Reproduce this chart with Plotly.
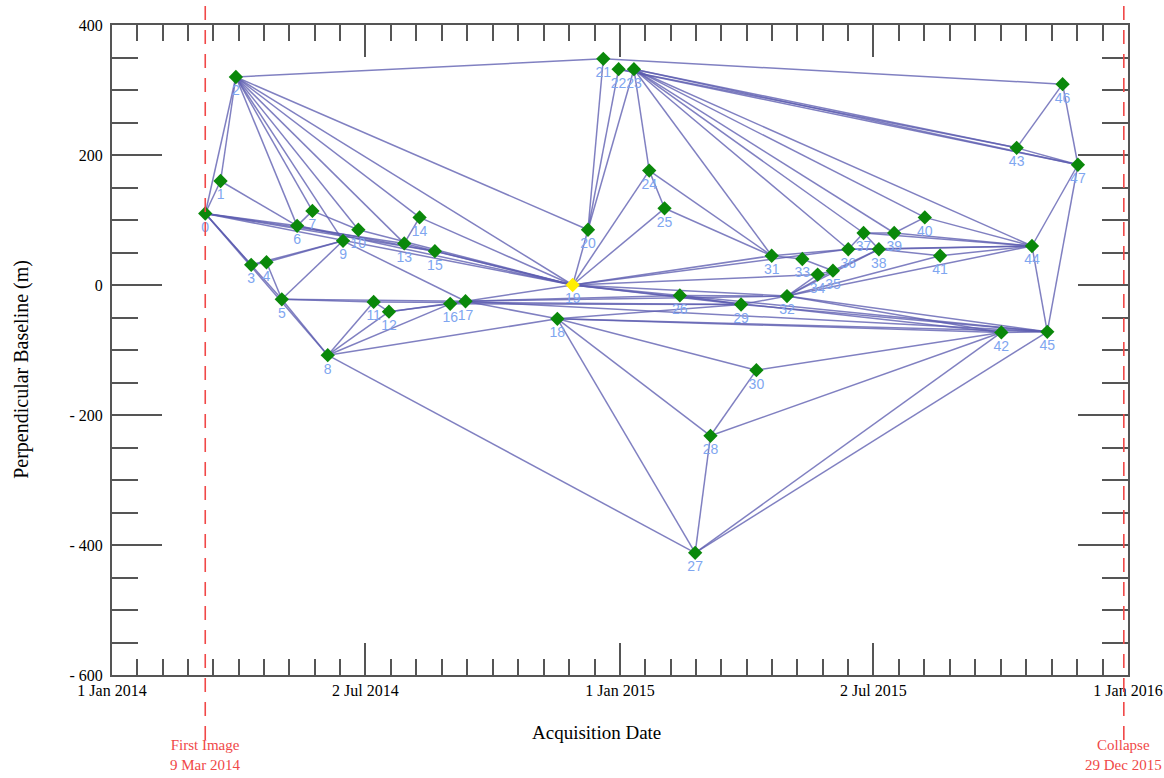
import plotly.graph_objects as go
import pandas as pd

# ---------------- data ----------------
acq_dates = [
    "2014-03-09", "2014-03-20", "2014-03-31", "2014-04-11", "2014-04-22", "2014-05-03",
    "2014-05-14", "2014-05-25", "2014-06-05", "2014-06-16", "2014-06-27", "2014-07-08",
    "2014-07-19", "2014-07-30", "2014-08-10", "2014-08-21", "2014-09-01", "2014-09-12",
    "2014-11-17", "2014-11-28", "2014-12-09", "2014-12-20", "2014-12-31", "2015-01-11",
    "2015-01-22", "2015-02-02", "2015-02-13", "2015-02-24", "2015-03-07", "2015-03-29",
    "2015-04-09", "2015-04-20", "2015-05-01", "2015-05-12", "2015-05-23", "2015-06-03",
    "2015-06-14", "2015-06-25", "2015-07-06", "2015-07-17", "2015-08-08", "2015-08-19",
    "2015-10-02", "2015-10-13", "2015-10-24", "2015-11-04", "2015-11-15", "2015-11-26",
]
baselines = [
    110, 160, 320, 31, 35, -22, 91, 114, -108, 68, 85, -26,
    -41, 64, 104, 52, -29, -25, -52, 0, 85, 348, 332, 332,
    176, 118, -16, -412, -232, -30, -131, 45, -17, 40, 16, 22,
    55, 80, 55, 80, 104, 45, -73, 211, 60, -72, 309, 185,
]
image_ids = [str(i) for i in range(len(acq_dates))]
reference_id = 19

pairs = [
    (0, 1), (0, 2), (1, 2), (0, 3), (0, 5), (0, 8), (0, 6), (0, 13), (0, 15), (0, 19),
    (1, 6),
    (2, 6), (2, 7), (2, 9), (2, 10), (2, 13), (2, 14), (2, 19), (2, 20), (2, 21),
    (3, 4), (3, 9), (4, 9), (4, 5), (5, 8), (5, 9),
    (6, 7), (6, 15), (6, 19), (7, 10), (9, 17), (10, 19),
    (13, 14), (13, 19), (14, 19), (15, 19),
    (5, 11), (5, 17), (8, 11), (8, 12), (8, 16), (8, 18), (8, 27),
    (11, 12), (11, 29), (12, 16), (12, 17), (16, 17), (16, 29), (17, 19), (17, 18),
    (17, 26), (17, 32), (17, 45),
    (18, 29), (18, 27), (18, 28), (18, 30), (18, 42), (18, 45),
    (19, 20), (19, 24), (19, 25), (19, 26), (19, 31), (19, 34), (19, 36), (19, 32),
    (19, 29), (19, 42),
    (20, 21), (20, 22), (20, 23),
    (21, 46), (22, 43), (22, 47), (23, 43), (23, 47), (23, 24), (23, 31), (23, 36),
    (23, 37), (23, 39), (23, 40), (23, 44),
    (24, 25), (24, 31), (25, 31),
    (26, 29), (26, 32), (26, 45),
    (27, 28), (27, 42), (27, 45), (28, 30), (28, 42), (30, 42),
    (29, 32), (29, 45),
    (31, 33), (31, 36), (33, 35), (32, 34), (32, 35), (32, 38), (32, 41), (32, 44),
    (32, 42), (32, 45),
    (34, 35), (35, 38),
    (36, 37), (36, 38), (36, 44), (37, 38), (37, 39), (37, 44), (38, 41), (38, 44),
    (39, 40), (39, 44), (40, 44), (41, 44),
    (42, 45), (43, 46), (43, 47), (46, 47), (44, 45), (44, 47), (45, 47),
]

major_tick_dates = ["2014-01-01", "2014-07-02", "2015-01-01", "2015-07-02", "2016-01-01"]
major_tick_text = ["1 Jan 2014", "2 Jul 2014", "1 Jan 2015", "2 Jul 2015", "1 Jan 2016"]
y_tick_vals = [-600, -400, -200, 0, 200, 400]
y_tick_text = ["- 600", "- 400", "- 200", "0", "200", "400"]

first_image_date = "2014-03-09"
collapse_date = "2015-12-29"

# ---------------- figure ----------------
SERIF = "Liberation Serif, Times New Roman, serif"
SANS = "Liberation Sans, Arial, sans-serif"
AXIS_COL = "#555555"
RED = "#F04848"

xs = pd.to_datetime(acq_dates)

ex, ey = [], []
for a, b in pairs:
    ex += [xs[a], xs[b], None]
    ey += [baselines[a], baselines[b], None]

fig = go.Figure()
fig.add_trace(go.Scatter(
    x=ex, y=ey, mode="lines",
    line=dict(color="rgba(92,92,176,0.78)", width=1.5),
    hoverinfo="skip", showlegend=False,
))

colors = ["#FFEE00" if i == reference_id else "#0A880A" for i in range(len(acq_dates))]
fig.add_trace(go.Scatter(
    x=xs, y=baselines, mode="markers+text",
    marker=dict(symbol="diamond", size=11, color=colors, line=dict(width=0)),
    text=image_ids, textposition="bottom center",
    textfont=dict(family=SANS, size=14, color="#7FA6F0"),
    showlegend=False,
))

# minor tick positions: 10 equal subdivisions between major ticks
maj = pd.to_datetime(major_tick_dates)
minor_vals = []
for i in range(len(maj) - 1):
    seg = pd.date_range(maj[i], maj[i + 1], periods=11)
    minor_vals += list(seg[1:-1])

for d in [first_image_date, collapse_date]:
    fig.add_shape(type="line", xref="x", yref="paper", x0=d, x1=d, y0=-0.1, y1=1.04,
                  line=dict(color=RED, width=1.6, dash="14px,10px"), layer="above")

fig.add_annotation(x=first_image_date, xref="x", y=-0.092, yref="paper", yanchor="top",
                   text="First Image<br>9 Mar 2014", showarrow=False,
                   font=dict(family=SERIF, size=15, color=RED))
fig.add_annotation(x=collapse_date, xref="x", y=-0.092, yref="paper", yanchor="top",
                   text="Collapse<br>29 Dec 2015", showarrow=False,
                   font=dict(family=SERIF, size=15, color=RED))

# axis titles
fig.add_annotation(x=0.477, xref="paper", y=-0.089, yref="paper", xanchor="center",
                   yanchor="middle", text="Acquisition Date", showarrow=False,
                   font=dict(family=SERIF, size=19, color="black"))
fig.add_annotation(x=-0.0886, xref="paper", y=0.471, yref="paper", xanchor="center",
                   yanchor="middle", text="Perpendicular Baseline (m)", textangle=-90,
                   showarrow=False, font=dict(family=SERIF, size=20, color="black"))

fig.update_layout(
    width=1164, height=778,
    margin=dict(l=112, r=36, t=25, b=103, autoexpand=False),
    paper_bgcolor="white", plot_bgcolor="white",
    font=dict(family=SERIF, size=14, color="black"),
    xaxis=dict(
        type="date", range=["2014-01-01", "2016-01-01"], automargin=False,
        tickmode="array", tickvals=major_tick_dates, ticktext=major_tick_text,
        ticks="inside", ticklen=32, tickwidth=2, tickcolor=AXIS_COL,
        minor=dict(tickmode="array", tickvals=minor_vals, ticks="inside",
                   ticklen=16, tickwidth=2, tickcolor=AXIS_COL, showgrid=False),
        showline=True, linecolor=AXIS_COL, linewidth=2, mirror="ticks",
        showgrid=False, zeroline=False,
        tickfont=dict(family=SERIF, size=16, color="black"),
    ),
    yaxis=dict(
        range=[-600, 400], automargin=False,
        tickmode="array", tickvals=y_tick_vals, ticktext=y_tick_text,
        ticks="inside", ticklen=50, tickwidth=2, tickcolor=AXIS_COL,
        minor=dict(dtick=50, ticks="inside", ticklen=26, tickwidth=2,
                   tickcolor=AXIS_COL, showgrid=False),
        showline=True, linecolor=AXIS_COL, linewidth=2, mirror="ticks",
        showgrid=False, zeroline=False, ticklabelstandoff=4,
        tickfont=dict(family=SERIF, size=16, color="black"),
    ),
)

fig.write_html("out.html", config={"displayModeBar": False},
               post_script="document.body.style.margin='0';document.body.style.overflow='hidden';")
